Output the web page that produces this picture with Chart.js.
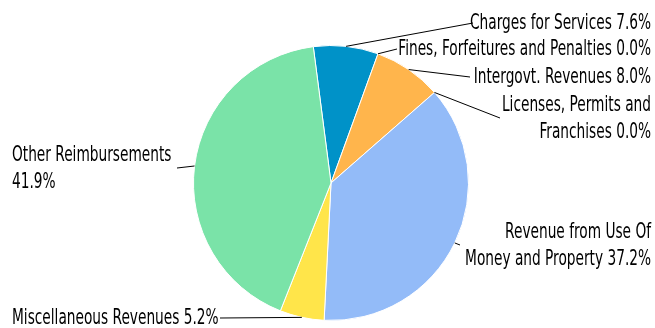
<!DOCTYPE html>
<html>
<head>
<meta charset="utf-8">
<script src="https://cdn.jsdelivr.net/npm/chart.js@4.4.0/dist/chart.umd.min.js"></script>
<style>
html,body{margin:0;padding:0;background:#fff;}
#wrap{width:655px;height:328px;position:relative;}
</style>
</head>
<body>
<div id="wrap"><canvas id="c" width="655" height="328"></canvas></div>
<script>
// ---- data ----
const categories = [
  "Charges for Services",
  "Fines, Forfeitures and Penalties",
  "Intergovt. Revenues",
  "Licenses, Permits and Franchises",
  "Revenue from Use Of Money and Property",
  "Miscellaneous Revenues",
  "Other Reimbursements"
];
const shares = [7.6, 0.0, 8.0, 0.0, 37.2, 5.2, 41.9];
const sliceColors = ["#0092c8", "#0092c8", "#ffb54c", "#ffb54c", "#93bbf8", "#ffe54a", "#7ae3a8"];

// ---- label layout (style / positions only) ----
const labelLayout = [
  {side: "right", ex: 473, ey: 23,  breakAfter: null},
  {side: "right", ex: 397, ey: 49,  breakAfter: null},
  {side: "right", ex: 470, ey: 77,  breakAfter: null},
  {side: "right", ex: 500, ey: 118, breakAfter: 3},
  {side: "right", ex: 460, ey: 245, breakAfter: 4},
  {side: "left",  ex: 220, ey: 318, breakAfter: null},
  {side: "left",  ex: 177, ey: 168, breakAfter: 2}
];
const FONT_SIZE = 21;
const FONT = FONT_SIZE + 'px "Liberation Sans Narrow", "DejaVu Sans Condensed", "Arial Narrow", sans-serif';
const LINE_H = 27.5;
const RIGHT_X = 651;
const LEFT_X = 12;
const REF_WIDTH = 181; // width of first label in reference, used for condensing

const labelPlugin = {
  id: "outLabels",
  afterDraw(chart) {
    const ctx = chart.ctx;
    const meta = chart.getDatasetMeta(0);
    ctx.save();
    ctx.font = FONT;
    const firstText = categories[0] + " " + shares[0].toFixed(1) + "%";
    const sx = REF_WIDTH / ctx.measureText(firstText).width;
    meta.data.forEach((arc, i) => {
      const p = arc.getProps(["x", "y", "startAngle", "endAngle", "outerRadius"], true);
      const mid = (p.startAngle + p.endAngle) / 2;
      const r = p.outerRadius;
      const x0 = p.x + Math.cos(mid) * r;
      const y0 = p.y + Math.sin(mid) * r;
      const L = labelLayout[i];
      ctx.strokeStyle = "#000";
      ctx.lineWidth = 1;
      ctx.beginPath();
      ctx.moveTo(x0, y0);
      ctx.lineTo(L.ex, L.ey);
      ctx.stroke();
      const full = categories[i] + " " + shares[i].toFixed(1) + "%";
      let lines = [full];
      if (L.breakAfter) {
        const w = full.split(" ");
        lines = [w.slice(0, L.breakAfter).join(" "), w.slice(L.breakAfter).join(" ")];
      }
      ctx.fillStyle = "#000";
      ctx.textBaseline = "middle";
      const n = lines.length;
      lines.forEach((t, k) => {
        const y = L.ey + (k - (n - 1) / 2) * LINE_H + 1;
        ctx.save();
        ctx.translate(L.side === "right" ? RIGHT_X : LEFT_X, y);
        ctx.scale(sx, 1);
        ctx.textAlign = L.side === "right" ? "right" : "left";
        ctx.fillText(t, 0, 0);
        ctx.restore();
      });
    });
    ctx.restore();
  }
};

new Chart(document.getElementById("c"), {
  type: "pie",
  data: {
    labels: categories,
    datasets: [{
      data: shares,
      backgroundColor: sliceColors,
      borderColor: "#ffffff",
      borderWidth: 1
    }]
  },
  options: {
    responsive: false,
    animation: false,
    rotation: -7.4,
    layout: {padding: {left: 193, right: 186, top: 45, bottom: 7}},
    plugins: {legend: {display: false}, tooltip: {enabled: false}}
  },
  plugins: [labelPlugin]
});
</script>
</body>
</html>
